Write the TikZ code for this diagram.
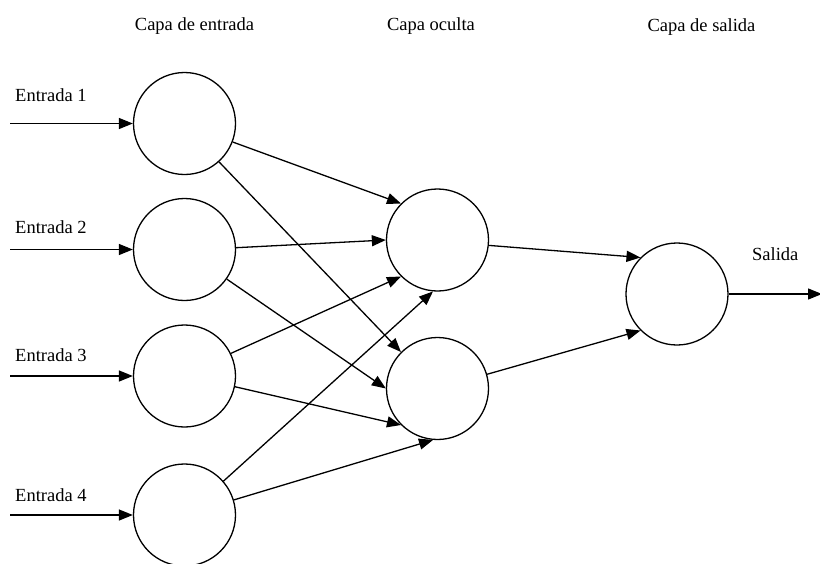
\documentclass[tikz,border=0pt]{standalone}
\usepackage{fontspec}
\setmainfont{Liberation Serif}
\usetikzlibrary{arrows.meta}
\begin{document}
\begin{tikzpicture}[x=1pt,y=-1pt,
  neuron/.style={draw,circle,minimum size=102pt,inner sep=0pt,line width=1.3pt},
  link/.style={line width=1.3pt,-{Triangle[length=14pt,width=11pt]}},
  lbl/.style={inner sep=0pt,font=\fontsize{18.5}{22}\selectfont}]
\useasboundingbox (0,0) rectangle (820,563);
% layer titles
\node[lbl,anchor=base] (t1) at (194.5,30) {Capa de entrada};
\node[lbl,anchor=base] (t2) at (431,30) {Capa oculta};
\node[lbl,anchor=base] (t3) at (701.5,31) {Capa de salida};
% neurons
\node[neuron] (i1) at (184.5,123.5) {};
\node[neuron] (i2) at (184.5,249.5) {};
\node[neuron] (i3) at (184.5,376) {};
\node[neuron] (i4) at (184.5,515) {};
\node[neuron] (h1) at (437.5,240) {};
\node[neuron] (h2) at (437.5,388.5) {};
\node[neuron] (o) at (677,294) {};
% input labels and arrows
\node[lbl,anchor=base west] (e1) at (15,101) {Entrada 1};
\node[lbl,anchor=base west] (e2) at (15,233) {Entrada 2};
\node[lbl,anchor=base west] (e3) at (15,361) {Entrada 3};
\node[lbl,anchor=base west] (e4) at (15,501) {Entrada 4};
\coordinate (s1) at (10,123.5);
\coordinate (s2) at (10,249.5);
\coordinate (s3) at (10,376);
\coordinate (s4) at (10,515);
\draw[link] (s1) -- (i1.west);
\draw[link] (s2) -- (i2.west);
\draw[link] (s3) -- (i3.west);
\draw[link] (s4) -- (i4.west);
% input to hidden
\draw[link] (i1.-21) -- (h1.135);
\draw[link] (i1.-48) -- (h2.135);
\draw[link] (i2.2) -- (h1.180);
\draw[link] (i2.-35) -- (h2.180);
\draw[link] (i3.26) -- (h1.225);
\draw[link] (i3.-12) -- (h2.225);
\draw[link] (i4.41) -- (h1.265);
\draw[link] (i4.17) -- (h2.265);
% hidden to output
\draw[link] (h1.-6) -- (o.135);
\draw[link] (h2.16) -- (o.225);
% output
\node[lbl,anchor=base west] (out) at (752,260) {Salida};
\coordinate (oe) at (822,294);
\draw[link] (o.east) -- (oe);
\end{tikzpicture}
\end{document}
